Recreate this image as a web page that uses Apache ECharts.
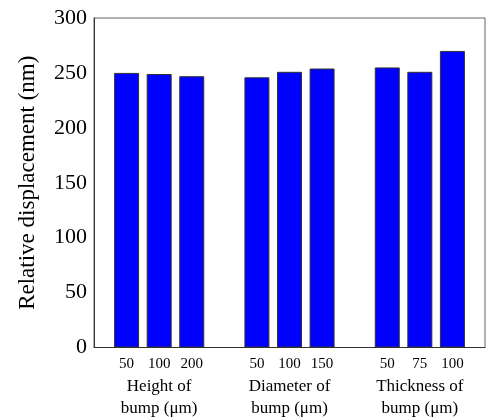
<!DOCTYPE html>
<html><head><meta charset="utf-8">
<script src="https://cdn.jsdelivr.net/npm/echarts@6/dist/echarts.min.js"></script>
<style>html,body{margin:0;padding:0;background:#fff}#c{width:488px;height:417px}</style>
</head><body><div id="c"></div>
<script>
// Categories (empty strings are spacer slots between groups)
const tickLabels = ["", "50", "100", "200", "", "50", "100", "150", "", "50", "75", "100", ""];
const groupLabels = { 2: "Height of\nbump (\u03bcm)", 6: "Diameter of\nbump (\u03bcm)", 10: "Thickness of\nbump (\u03bcm)" };
const values = [null, 250, 249, 247, null, 246, 251, 254, null, 255, 251, 270, null];
const yTicks = { min: 0, max: 300, interval: 50 };
const yTitle = "Relative displacement (nm)";

const chart = echarts.init(document.getElementById('c'));
const serif = '"Liberation Serif", "DejaVu Serif", serif';
chart.setOption({
  animation: false,
  grid: { left: 94, top: 18, right: 2, bottom: 68, show: true, borderColor: '#666', borderWidth: 1, backgroundColor: 'transparent' },
  xAxis: {
    type: 'category', data: tickLabels, boundaryGap: false,
    axisLine: { show: true, lineStyle: { color: '#333' } },
    axisTick: { show: false },
    axisLabel: {
      interval: 0, margin: 6,
      formatter: function (v, i) {
        const g = groupLabels[i];
        return g ? '{t|' + v + '}\n' + g.split('\n').map(s => '{g|' + s + '}').join('\n') : '{t|' + v + '}';
      },
      rich: {
        t: { fontFamily: serif, fontSize: 15, color: '#000', lineHeight: 22 },
        g: { fontFamily: serif, fontSize: 17, color: '#000', lineHeight: 22 }
      },
      verticalAlign: 'top'
    }
  },
  yAxis: {
    type: 'value', min: yTicks.min, max: yTicks.max, interval: yTicks.interval,
    name: yTitle, nameLocation: 'middle', nameGap: 55,
    nameTextStyle: { fontFamily: serif, fontSize: 23, color: '#000' },
    axisLine: { show: true, lineStyle: { color: '#333' } },
    axisTick: { show: false },
    splitLine: { show: false },
    axisLabel: { fontFamily: serif, fontSize: 22, color: '#000', margin: 7 }
  },
  series: [{
    type: 'bar', data: values, barWidth: 25,
    itemStyle: { color: '#0000ff', borderColor: '#333', borderWidth: 1 }
  }]
});
</script></body></html>
